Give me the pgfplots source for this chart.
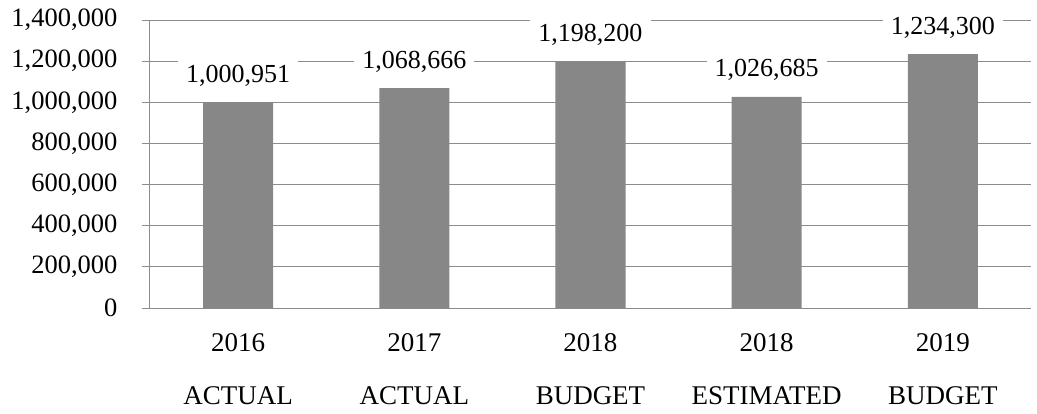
\documentclass[border=0pt]{standalone}
\usepackage{fontspec}
\setmainfont{Liberation Serif}
\usepackage{pgfplots}
\pgfplotsset{compat=1.18}
\definecolor{barg}{RGB}{135,135,135}
\definecolor{gridg}{RGB}{140,140,140}
\begin{document}
\begin{tikzpicture}
\useasboundingbox (-150pt,-105pt) rectangle (887pt,308pt);
\begin{axis}[
  scale only axis, width=881pt, height=288pt,
  xmin=-0.5, xmax=4.5, ymin=0, ymax=1400000,
  axis x line*=bottom, axis y line*=left,
  axis line style={draw=gridg, line width=1pt, -},
  ytick={0,200000,400000,600000,800000,1000000,1200000,1400000},
  yticklabels={{0},{200,000},{400,000},{600,000},{800,000},{1,000,000},{1,200,000},{1,400,000}},
  scaled y ticks=false,
  ymajorgrids, grid style={draw=gridg, line width=1pt},
  tick align=outside, major tick length=8pt,
  ytick style={draw=gridg, line width=1pt},
  xtick={0,1,2,3,4}, xtick style={draw=none},
  xticklabels={{2016\\[23pt]ACTUAL},{2017\\[23pt]ACTUAL},{2018\\[23pt]BUDGET},{2018\\[23pt]ESTIMATED},{2019\\[23pt]BUDGET}},
  xticklabel style={align=center, font=\fontsize{27}{30}\selectfont, yshift=-14pt},
  yticklabel style={font=\fontsize{26.5}{30}\selectfont, xshift=-21pt},
]
\addplot[ybar, bar width=70pt, fill=barg, draw=none,
  nodes near coords, point meta=explicit symbolic,
  every node near coord/.append style={font=\fontsize{26}{30}\selectfont, anchor=base, yshift=20pt, fill=white, inner xsep=8pt, inner ysep=6pt}]
  coordinates {
    (0,1000951) [1,000,951]
    (1,1068666) [1,068,666]
    (2,1198200) [1,198,200]
    (3,1026685) [1,026,685]
    (4,1234300) [1,234,300]
  };
\end{axis}
\end{tikzpicture}
\end{document}
